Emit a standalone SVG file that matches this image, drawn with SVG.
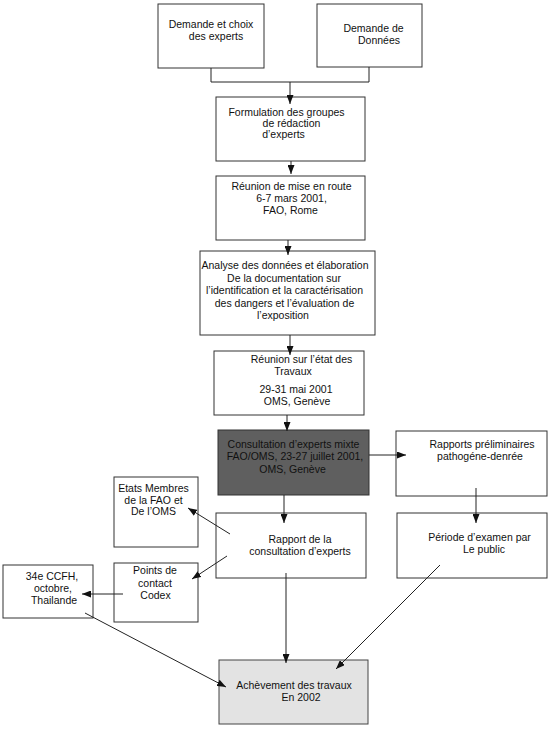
<svg xmlns="http://www.w3.org/2000/svg" width="550" height="744" viewBox="0 0 550 744">
<defs>
<marker id="ah" markerWidth="9" markerHeight="7" refX="9" refY="3.5" orient="auto" markerUnits="userSpaceOnUse">
<path d="M0,0 L9,3.5 L0,7 z" fill="#111"/>
</marker>
<style>
.box{fill:#fff;stroke:#333;stroke-width:1}
.dark{fill:#5f5f5f;stroke:#333;stroke-width:1}
.light{fill:#e3e3e3;stroke:#444;stroke-width:1}
text{font-family:"Liberation Sans",Arial,sans-serif;font-size:10.5px;fill:#111;text-anchor:middle}
.c{fill:none;stroke:#222;stroke-width:1}
.a{fill:none;stroke:#222;stroke-width:1;marker-end:url(#ah)}
</style>
</defs>
<rect width="550" height="744" fill="#fff"/>
<g id="n1"><rect class="box" x="158" y="4" width="106" height="64"/><text x="211" y="28">Demande et choix</text><text x="216" y="39.5">des experts</text></g>
<g id="n2"><rect class="box" x="317" y="4" width="105" height="63"/><text x="373.5" y="32">Demande de</text><text x="379" y="43.5">Données</text></g>
<g id="n3"><rect class="box" x="216" y="97" width="149" height="64"/><text x="286.5" y="116">Formulation des groupes</text><text x="291.5" y="127">de rédaction</text><text x="283.5" y="138">d’experts</text></g>
<g id="n4"><rect class="box" x="216" y="176" width="149" height="64"/><text x="291.5" y="190">Réunion de mise en route</text><text x="291.5" y="202">6-7 mars 2001,</text><text x="290.5" y="213.5">FAO, Rome</text></g>
<g id="n5"><rect class="box" x="200" y="251" width="175" height="84"/><text x="285" y="269">Analyse des données et élaboration</text><text x="284" y="281.5">De la documentation sur</text><text x="284.5" y="294">l’identification et la caractérisation</text><text x="284.5" y="306.5">des dangers et l’évaluation de</text><text x="283" y="319">l’exposition</text></g>
<g id="n6"><rect class="box" x="214" y="351" width="150" height="64"/><text x="301.5" y="363">Réunion sur l’état des</text><text x="293" y="375">Travaux</text><text x="296" y="393">29-31 mai 2001</text><text x="297" y="404.5">OMS, Genève</text></g>
<g id="n7"><rect class="dark" x="218" y="430" width="151" height="65"/><text x="293.5" y="448">Consultation d’experts mixte</text><text x="295" y="460">FAO/OMS, 23-27 juillet 2001,</text><text x="292.5" y="472.5">OMS, Genève</text></g>
<g id="n8"><rect class="box" x="396" y="431" width="151" height="65"/><text x="482" y="448">Rapports préliminaires</text><text x="480" y="460">pathogéne-denrée</text></g>
<g id="n9"><rect class="box" x="397" y="513" width="150" height="65"/><text x="479.5" y="541">Période d’examen par</text><text x="484" y="553">Le public</text></g>
<g id="n10"><rect class="box" x="114" y="477" width="84" height="70"/><text x="153.5" y="492">Etats Membres</text><text x="153.5" y="503.5">de la FAO et</text><text x="153.5" y="515">De l’OMS</text></g>
<g id="n11"><rect class="box" x="216" y="513" width="150" height="65"/><text x="300" y="543">Rapport de la</text><text x="300" y="554.5">consultation d’experts</text></g>
<g id="n12"><rect class="box" x="114" y="563" width="84" height="59"/><text x="155" y="574">Points de</text><text x="155" y="587">contact</text><text x="155.5" y="598.5">Codex</text></g>
<g id="n13"><rect class="box" x="3" y="565" width="90" height="53"/><text x="52" y="580">34e CCFH,</text><text x="53" y="592">octobre,</text><text x="54" y="603.5">Thailande</text></g>
<g id="n14"><rect class="light" x="219" y="660" width="149" height="64"/><text x="294" y="689">Achèvement des travaux</text><text x="301" y="700.5">En 2002</text></g>
<g id="connectors">
<polyline class="c" points="211,68 211,82 369,82 369,67"/>
<line class="a" x1="290" y1="82" x2="290" y2="104"/>
<line class="a" x1="291" y1="161" x2="291" y2="174"/>
<line class="a" x1="288" y1="240" x2="288" y2="255"/>
<line class="a" x1="290" y1="335" x2="290" y2="355"/>
<line class="a" x1="287" y1="415" x2="287" y2="431"/>
<line class="a" x1="369" y1="455" x2="406" y2="455"/>
<line class="a" x1="476" y1="488" x2="476" y2="523"/>
<line class="a" x1="284" y1="495" x2="284" y2="523"/>
<line class="a" x1="230" y1="534" x2="188" y2="508"/>
<line class="a" x1="227" y1="556" x2="192" y2="579"/>
<line class="a" x1="123" y1="594" x2="82" y2="594"/>
<line class="a" x1="286" y1="573" x2="286" y2="663"/>
<line class="a" x1="440" y1="565" x2="336" y2="669"/>
<line class="a" x1="85" y1="613" x2="226" y2="687"/>
</g>
</svg>
